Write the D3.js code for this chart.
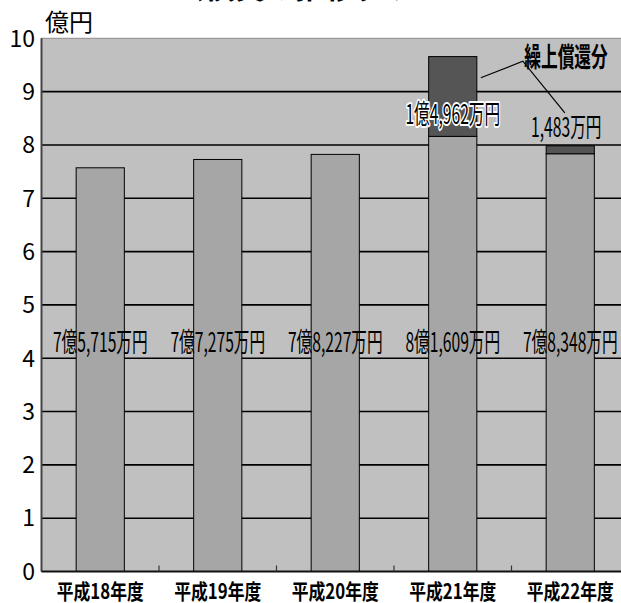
<!DOCTYPE html>
<html>
<head>
<meta charset="utf-8">
<script src="https://cdn.jsdelivr.net/npm/d3@7"></script>
<style>
  body { margin: 0; background: #fff; }
  svg { display: block; font-family: "Noto Sans CJK JP", "Noto Sans", sans-serif; }
</style>
</head>
<body>
<div id="chart"></div>
<script>
// data
const years = ["平成18年度", "平成19年度", "平成20年度", "平成21年度", "平成22年度"];
const baseValues = [7.5715, 7.7275, 7.8227, 8.1609, 7.8348]; // 億円
const earlyValues = [0, 0, 0, 1.4962, 0.1483]; // 繰上償還分
const baseLabels = ["7億5,715万円", "7億7,275万円", "7億8,227万円", "8億1,609万円", "7億8,348万円"];
const earlyLabels = ["", "", "", "1億4,962万円", "1,483万円"];
const yTicks = [0, 1, 2, 3, 4, 5, 6, 7, 8, 9, 10];

const width = 621, height = 603;

const svg = d3.select("#chart").append("svg").attr("width", width).attr("height", height);

const x = d3.scaleBand().domain(years).range([41.5, 629]).padding(0);
const y = d3.scaleLinear().domain([0, 10]).range([571.5, 38.3]);
const barW = x.bandwidth() * 0.41;

// title (cut off at the top in the original)
svg.append("text")
  .attr("x", 310).attr("y", -2)
  .attr("text-anchor", "middle")
  .attr("font-size", 30).attr("font-weight", "bold")
  .text("公債費の推移グラフ");

// plot background
svg.append("rect")
  .attr("x", x.range()[0]).attr("y", y(10))
  .attr("width", x.range()[1] - x.range()[0]).attr("height", y(0) - y(10))
  .attr("fill", "#c0c0c0")
  .attr("stroke", "#8c8c8c").attr("stroke-width", 1);

// grid lines
svg.append("g")
  .selectAll("line")
  .data(yTicks.filter((d) => d > 0 && d < 10))
  .enter()
  .append("line")
  .attr("x1", x.range()[0]).attr("x2", x.range()[1])
  .attr("y1", (d) => y(d)).attr("y2", (d) => y(d))
  .attr("stroke", "#000").attr("stroke-width", 1.6);

// bars
const bars = svg.append("g").selectAll("g").data(years).enter().append("g");

bars.append("rect")
  .attr("x", (d) => x(d) + x.bandwidth() / 2 - barW / 2)
  .attr("width", barW)
  .attr("y", (d, i) => y(baseValues[i]))
  .attr("height", (d, i) => y(0) - y(baseValues[i]))
  .attr("fill", "#a6a6a6")
  .attr("stroke", "#000").attr("stroke-width", 1);

bars.filter((d, i) => earlyValues[i] > 0)
  .append("rect")
  .attr("x", (d) => x(d) + x.bandwidth() / 2 - barW / 2)
  .attr("width", barW)
  .attr("y", (d) => y(baseValues[years.indexOf(d)] + earlyValues[years.indexOf(d)]))
  .attr("height", (d) => y(0) - y(earlyValues[years.indexOf(d)]))
  .attr("fill", "#555555")
  .attr("stroke", "#000").attr("stroke-width", 1);

// axes
svg.append("line")
  .attr("x1", x.range()[0]).attr("x2", x.range()[0])
  .attr("y1", y(10)).attr("y2", y(0))
  .attr("stroke", "#444").attr("stroke-width", 2);

svg.append("line")
  .attr("x1", x.range()[0]).attr("x2", x.range()[1])
  .attr("y1", y(0)).attr("y2", y(0))
  .attr("stroke", "#111").attr("stroke-width", 2);

// category separator ticks on the x axis
svg.append("g")
  .selectAll("line")
  .data(years.slice(1))
  .enter()
  .append("line")
  .attr("x1", (d) => x(d)).attr("x2", (d) => x(d))
  .attr("y1", y(0)).attr("y2", y(0) - 6)
  .attr("stroke", "#333").attr("stroke-width", 1.2);

// y tick labels
svg.append("g")
  .selectAll("text")
  .data(yTicks)
  .enter()
  .append("text")
  .attr("x", 35).attr("y", (d) => y(d))
  .attr("dy", "0.36em")
  .attr("text-anchor", "end")
  .attr("font-size", 23)
  .attr("fill", "#000")
  .text((d) => d);

svg.append("text")
  .attr("x", 45).attr("y", 31)
  .attr("font-size", 24)
  .text("億円");

// x labels
svg.append("g")
  .selectAll("text")
  .data(years)
  .enter()
  .append("text")
  .attr("transform", (d) => `translate(${x(d) + x.bandwidth() / 2},${591}) scale(0.8,1)`)
  .attr("dy", "0.36em")
  .attr("text-anchor", "middle")
  .attr("font-size", 21).attr("font-weight", "bold")
  .text((d) => d);

// base value labels
svg.append("g")
  .selectAll("text")
  .data(years)
  .enter()
  .append("text")
  .attr("transform", (d) => `translate(${x(d) + x.bandwidth() / 2},${y(4.3)}) scale(0.58,1)`)
  .attr("dy", "0.36em")
  .attr("text-anchor", "middle")
  .attr("font-size", 27)
  .text((d, i) => baseLabels[i]);

// early repayment labels
const earlyIdx = years.map((d, i) => i).filter((i) => earlyValues[i] > 0);
svg.append("g")
  .selectAll("text")
  .data(earlyIdx)
  .enter()
  .append("text")
  .attr("transform", (i) => {
    const cx = x(years[i]) + x.bandwidth() / 2;
    const cy = earlyValues[i] > 1 ? y(baseValues[i]) - 22 : y(baseValues[i] + earlyValues[i]) - 19;
    return `translate(${cx + (earlyValues[i] > 1 ? 0 : -4)},${cy}) scale(0.58,1)`;
  })
  .attr("dy", "0.36em")
  .attr("text-anchor", "middle")
  .attr("font-size", 27)
  .attr("stroke", (i) => (earlyValues[i] > 1 ? "#fff" : "none"))
  .attr("stroke-width", 4)
  .attr("stroke-linejoin", "round")
  .attr("paint-order", "stroke")
  .attr("fill", "#000")
  .text((i) => earlyLabels[i]);

// callout
const b4 = x(years[3]) + x.bandwidth() / 2 + barW / 2;
svg.append("polyline")
  .attr("points", `${b4 + 4},${y(9.26)} ${b4 + 46},${y(9.57)} ${b4 + 88},${y(8.6)}`)
  .attr("fill", "none")
  .attr("stroke", "#000").attr("stroke-width", 1.2);

svg.append("text")
  .attr("transform", `translate(566,${57.5}) scale(0.62,1)`)
  .attr("dy", "0.36em")
  .attr("text-anchor", "middle")
  .attr("font-size", 27).attr("font-weight", "bold")
  .text("繰上償還分");
</script>
</body>
</html>
